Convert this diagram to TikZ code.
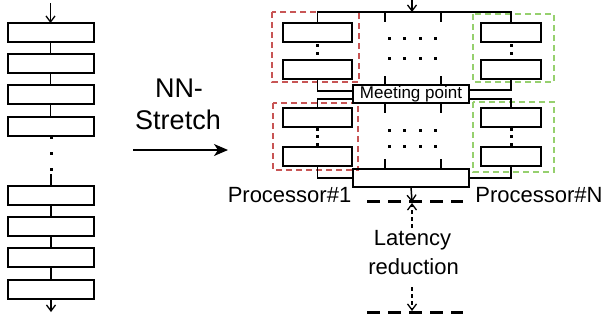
\documentclass[tikz,border=0pt]{standalone}
\usepackage{fontspec}
\setmainfont{Liberation Sans}
\usetikzlibrary{arrows.meta}
\definecolor{dred}{RGB}{200,85,85}
\definecolor{dgreen}{RGB}{150,208,110}
\begin{document}
\begin{tikzpicture}[x=1pt,y=-1pt,
  blk/.style={draw,line width=2pt,minimum height=19pt,inner sep=0pt,outer sep=0pt},
  lblk/.style={blk,minimum width=86pt},
  rblk/.style={blk,minimum width=69pt},
  gblk/.style={blk,minimum width=60pt},
  conn/.style={line width=1.5pt},
  barb/.style={conn,-{Straight Barb[length=6pt,width=9pt,line width=1.3pt]}},
  redbox/.style={draw=dred,line width=1.6pt,dash pattern=on 6pt off 4pt},
  greenbox/.style={draw=dgreen,line width=1.6pt,dash pattern=on 6pt off 4pt},
  thickdash/.style={line width=3pt,dash pattern=on 13pt off 8pt},
  thindash/.style={line width=1.3pt,dash pattern=on 4pt off 3pt,-{Straight Barb[length=6pt,width=9pt,line width=1.3pt]}},
  lbl/.style={inner sep=0pt,font=\fontsize{22}{26}\selectfont}
]
\useasboundingbox (0,0) rectangle (607,322);

% ---------------- left column ----------------
\node[lblk] (b1) at (50.5,32.5) {};
\node[lblk] (b2) at (50.5,63.5) {};
\node[lblk] (b3) at (50.5,94.5) {};
\node[lblk] (b4) at (50.5,126) {};
\node[lblk] (b5) at (51,195) {};
\node[lblk] (b6) at (51,226.5) {};
\node[lblk] (b7) at (51,257.5) {};
\node[lblk] (b8) at (51,289) {};
\coordinate (lin) at (50.5,3);
\coordinate (lout) at (51,312);
\coordinate (ldotend) at (51,174);
\draw[barb] (lin) -- (b1.north);
\draw[conn] (b1.south) -- (b2.north);
\draw[conn] (b2.south) -- (b3.north);
\draw[conn] (b3.south) -- (b4.north);
\draw[conn] (ldotend) -- (b5.north);
\draw[conn] (b5.south) -- (b6.north);
\draw[conn] (b6.south) -- (b7.north);
\draw[conn] (b7.south) -- (b8.north);
\draw[barb] (b8.south) -- (lout);
\foreach \yy in {137,153,169} \fill (49.5,\yy-1.5) rectangle ++(3,3);

% ---------------- NN-Stretch ----------------
\node[inner sep=0pt,anchor=base,font=\fontsize{27}{30}\selectfont] (nn) at (179,97) {NN-};
\node[inner sep=0pt,anchor=base,font=\fontsize{27}{30}\selectfont] (st) at (178,129) {Stretch};
\coordinate (as) at (133,150);
\coordinate (ae) at (228,150);
\draw[line width=1.3pt,-{Stealth[length=14pt,width=12pt,inset=4pt]}] (as) -- (ae);

% ---------------- processors ----------------
\node[rblk] (r1) at (317.5,32.5) {};
\node[rblk] (r2) at (317.5,69) {};
\node[rblk] (r3) at (317.5,117) {};
\node[rblk] (r4) at (317.5,156) {};
\node[gblk] (g1) at (511,32.5) {};
\node[gblk] (g2) at (511,69) {};
\node[gblk] (g3) at (511,117) {};
\node[gblk] (g4) at (511,156) {};

\draw[redbox] (272,12) rectangle (359,82);
\draw[redbox] (273,103) rectangle (358,170);
\draw[greenbox] (473,14) rectangle (554,82);
\draw[greenbox] (473,102) rectangle (554,172);

\foreach \xx in {317,511} {
  \foreach \yy in {45,53} \fill (\xx-1.5,\yy-1.5) rectangle ++(3,3);
  \foreach \yy in {129,136.5,144} \fill (\xx-1.5,\yy-1.5) rectangle ++(3,3);
}

\node[draw,line width=2pt,minimum width=116pt,minimum height=18pt,inner sep=0pt,outer sep=0pt,
  font=\fontsize{17}{18}\selectfont] (meet) at (411,94) {Meeting point};
\node[draw,line width=2pt,minimum width=116pt,minimum height=18pt,inner sep=0pt,outer sep=0pt] (merge) at (411,178) {};

% top bar and input
\coordinate (tin) at (412,-1);
\coordinate (tbar) at (412,12);
\draw[conn] (r1.north) -- ++(0,-11) -| (g1.north);
\draw[barb] (tin) -- (tbar);
\foreach \xx in {385,441} {
  \draw[conn] (\xx,12) -- (\xx,22);
  \draw[conn] (\xx,76) -- (\xx,85);
  \draw[conn] (\xx,103) -- (\xx,113);
  \draw[conn] (\xx,159) -- (\xx,169);
}
\foreach \xx in {389,404.5,420,435.5} {
  \foreach \yy in {38,58,130,146} \fill (\xx-1.5,\yy-1.5) rectangle ++(3,3);
}

% connectors to meeting point
\draw[conn] (r2.south) |- ([yshift=3pt]meet.west);
\draw[conn] ([yshift=-5pt]meet.west) -| (r3.north);
\draw[conn] (g2.south) |- ([yshift=4pt]meet.east);
\draw[conn] ([yshift=-5pt]meet.east) -| (g3.north);
\draw[conn] (r4.south) |- (merge.west);
\draw[conn] (g4.south) |- (merge.east);

% labels
\node[lbl,anchor=base] (p1) at (289.5,202) {Processor\#1};
\node[lbl,anchor=base] (pn) at (539,202) {Processor\#N};

% latency reduction
\coordinate (d1l) at (367,201);
\coordinate (d1r) at (463,201);
\coordinate (d2l) at (367,312);
\coordinate (d2r) at (463,312);
\coordinate (mid1) at (412,201);
\coordinate (mid2) at (412,312);
\draw[thickdash] (d1l) -- (d1r);
\draw[thickdash] (d2l) -- (d2r);
\draw[barb] (merge.south) -- ([yshift=-1pt]mid1);
\node[lbl,anchor=base] (lat) at (412.5,245) {Latency};
\node[lbl,anchor=base] (red) at (413.5,274) {reduction};
\coordinate (la) at (412,228);
\coordinate (lb) at (412,287);
\draw[thindash] (la) -- ([yshift=-2pt]mid1);
\draw[thindash] (lb) -- ([yshift=1pt]mid2);
\end{tikzpicture}
\end{document}
